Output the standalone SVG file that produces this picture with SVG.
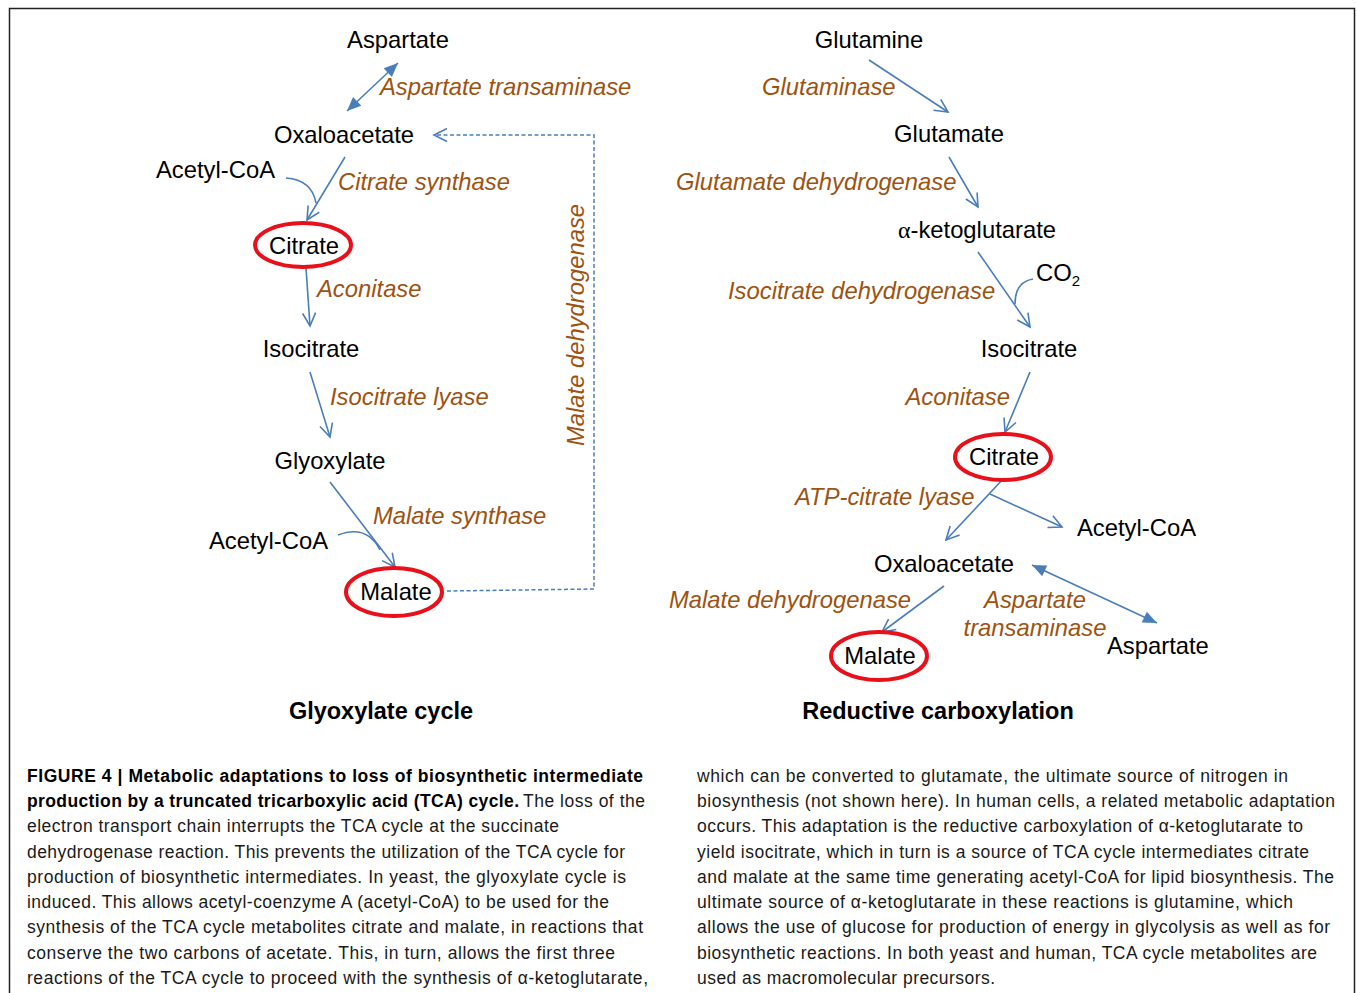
<svg xmlns="http://www.w3.org/2000/svg" width="1357" height="993" viewBox="0 0 1357 993">
<style>
.n{font-family:"Liberation Sans",Arial,sans-serif;font-size:23.8px;fill:#000}
.e{font-family:"Liberation Sans",Arial,sans-serif;font-size:23.8px;font-style:italic;fill:#9e5210}
.t{font-family:"Liberation Sans",Arial,sans-serif;font-size:23.5px;font-weight:bold;fill:#000}
.c{font-family:"Liberation Sans",Arial,sans-serif;font-size:17.5px;fill:#1a1a1a}
.cb{font-family:"Liberation Sans",Arial,sans-serif;font-size:17.5px;font-weight:bold;fill:#000}
.g{font-family:"Liberation Serif","Times New Roman",serif}
.ring{fill:none;stroke:#e8101a;stroke-width:4}
.a{fill:none;stroke:#4a7ebb;stroke-width:1.6;marker-end:url(#open)}
.cv{fill:none;stroke:#4a7ebb;stroke-width:1.6}
.d{fill:none;stroke:#4a7ebb;stroke-width:1.6;marker-start:url(#fill);marker-end:url(#fill)}
.dash{fill:none;stroke:#4a7ebb;stroke-width:1.5;stroke-dasharray:4,2.5}
</style>
<defs>
<marker id="open" markerUnits="userSpaceOnUse" markerWidth="18" markerHeight="16" refX="15" refY="8" orient="auto" overflow="visible">
<path d="M2,1.5 L15,8 L2,14.5" fill="none" stroke="#4a7ebb" stroke-width="1.6"/>
</marker>
<marker id="fill" markerUnits="userSpaceOnUse" markerWidth="16" markerHeight="14" refX="14" refY="6" orient="auto-start-reverse" overflow="visible">
<path d="M0,0 L14,6 L0,12 Z" fill="#4a7ebb"/>
</marker>
</defs>
<rect width="1357" height="993" fill="#fff"/>
<path d="M9.5,993 L9.5,8.5 L1354.5,8.5 L1354.5,993" fill="none" stroke="#222" stroke-width="1.5"/>

<g id="connectors">
<line class="d" x1="398" y1="63" x2="347" y2="111"/>
<path class="dash" d="M447,591 L594,589 L594,135 L434,135" marker-end="url(#open)"/>
<line class="a" x1="345" y1="157" x2="307" y2="220"/>
<path class="cv" d="M286,178 Q312,180 316,203"/>
<line class="a" x1="306" y1="268" x2="310" y2="326"/>
<line class="a" x1="310" y1="372" x2="330" y2="437"/>
<line class="a" x1="330" y1="482" x2="395" y2="567"/>
<path class="cv" d="M338,535 Q367,524 380,550"/>

<line class="a" x1="869" y1="60" x2="948" y2="112"/>
<line class="a" x1="949" y1="157" x2="978" y2="207"/>
<line class="a" x1="978" y1="252" x2="1030" y2="327"/>
<path class="cv" d="M1033,279 Q1015,282 1015,304"/>
<line class="a" x1="1030" y1="372" x2="1005" y2="432"/>
<line class="a" x1="1004" y1="478" x2="946" y2="540"/>
<line class="a" x1="990" y1="494" x2="1062" y2="527"/>
<line class="d" x1="1032" y1="565" x2="1157" y2="623"/>
<line class="a" x1="944" y1="586" x2="882" y2="632"/>
</g>

<g id="glyoxylate-cycle">
<g id="aspartate-l"><text class="n" x="398" y="48" text-anchor="middle">Aspartate</text></g>
<g id="aat-l"><text class="e" x="380" y="95">Aspartate transaminase</text></g>
<g id="oaa-l"><text class="n" x="344" y="143" text-anchor="middle">Oxaloacetate</text></g>
<g id="accoa-l1"><text class="n" x="156" y="178">Acetyl-CoA</text></g>
<g id="cs-l"><text class="e" x="338" y="190">Citrate synthase</text></g>
<g id="citrate-l"><ellipse class="ring" cx="303" cy="245" rx="48" ry="22"/><text class="n" x="304" y="254" text-anchor="middle">Citrate</text></g>
<g id="acon-l"><text class="e" x="317" y="297">Aconitase</text></g>
<g id="isocit-l"><text class="n" x="311" y="357" text-anchor="middle">Isocitrate</text></g>
<g id="icl-l"><text class="e" x="330" y="405">Isocitrate lyase</text></g>
<g id="glyox-l"><text class="n" x="330" y="469" text-anchor="middle">Glyoxylate</text></g>
<g id="ms-l"><text class="e" x="373" y="524">Malate synthase</text></g>
<g id="accoa-l2"><text class="n" x="209" y="549">Acetyl-CoA</text></g>
<g id="malate-l"><ellipse class="ring" cx="394" cy="592" rx="48" ry="24"/><text class="n" x="396" y="600" text-anchor="middle">Malate</text></g>
<g id="mdh-l"><text class="e" transform="translate(584,325) rotate(-90)" text-anchor="middle">Malate dehydrogenase</text></g>
<g id="title-l"><text class="t" x="381" y="719" text-anchor="middle">Glyoxylate cycle</text></g>
</g>

<g id="reductive-carboxylation">
<g id="gln"><text class="n" x="869" y="48" text-anchor="middle">Glutamine</text></g>
<g id="glsase"><text class="e" x="762" y="95">Glutaminase</text></g>
<g id="glu"><text class="n" x="949" y="142" text-anchor="middle">Glutamate</text></g>
<g id="gdh"><text class="e" x="676" y="190">Glutamate dehydrogenase</text></g>
<g id="akg"><text class="n" x="977" y="238" text-anchor="middle"><tspan class="g">α</tspan>-ketoglutarate</text></g>
<g id="co2"><text class="n" x="1036" y="281">CO<tspan font-size="15" dy="5">2</tspan></text></g>
<g id="idh"><text class="e" x="728" y="299">Isocitrate dehydrogenase</text></g>
<g id="isocit-r"><text class="n" x="1029" y="357" text-anchor="middle">Isocitrate</text></g>
<g id="acon-r"><text class="e" x="1010" y="405" text-anchor="end">Aconitase</text></g>
<g id="citrate-r"><ellipse class="ring" cx="1003" cy="457" rx="48" ry="23"/><text class="n" x="1004" y="465" text-anchor="middle">Citrate</text></g>
<g id="acl"><text class="e" x="795" y="505">ATP-citrate lyase</text></g>
<g id="accoa-r"><text class="n" x="1077" y="536">Acetyl-CoA</text></g>
<g id="oaa-r"><text class="n" x="944" y="572" text-anchor="middle">Oxaloacetate</text></g>
<g id="mdh-r"><text class="e" x="669" y="608">Malate dehydrogenase</text></g>
<g id="aat-r"><text class="e" x="1035" y="608" text-anchor="middle">Aspartate</text><text class="e" x="1035" y="636" text-anchor="middle">transaminase</text></g>
<g id="asp-r"><text class="n" x="1107" y="654">Aspartate</text></g>
<g id="malate-r"><ellipse class="ring" cx="879" cy="656" rx="48" ry="24"/><text class="n" x="880" y="664" text-anchor="middle">Malate</text></g>
<g id="title-r"><text class="t" x="938" y="719" text-anchor="middle">Reductive carboxylation</text></g>
</g>

<g id="caption">
<text class="cb" x="27" y="782" textLength="616">FIGURE 4 | Metabolic adaptations to loss of biosynthetic intermediate</text>
<text class="cb" x="27" y="807" textLength="492">production by a truncated tricarboxylic acid (TCA) cycle.</text>
<text class="c" x="523" y="807" textLength="122">The loss of the</text>
<text class="c" x="27" y="832" textLength="532">electron transport chain interrupts the TCA cycle at the succinate</text>
<text class="c" x="27" y="857.5" textLength="598">dehydrogenase reaction. This prevents the utilization of the TCA cycle for</text>
<text class="c" x="27" y="883" textLength="599">production of biosynthetic intermediates. In yeast, the glyoxylate cycle is</text>
<text class="c" x="27" y="908" textLength="582">induced. This allows acetyl-coenzyme A (acetyl-CoA) to be used for the</text>
<text class="c" x="27" y="933" textLength="616">synthesis of the TCA cycle metabolites citrate and malate, in reactions that</text>
<text class="c" x="27" y="958.5" textLength="588">conserve the two carbons of acetate. This, in turn, allows the first three</text>
<text class="c" x="27" y="984" textLength="621">reactions of the TCA cycle to proceed with the synthesis of α-ketoglutarate,</text>
<text class="c" x="697" y="782" textLength="591">which can be converted to glutamate, the ultimate source of nitrogen in</text>
<text class="c" x="697" y="807" textLength="638">biosynthesis (not shown here). In human cells, a related metabolic adaptation</text>
<text class="c" x="697" y="832" textLength="606">occurs. This adaptation is the reductive carboxylation of α-ketoglutarate to</text>
<text class="c" x="697" y="857.5" textLength="612">yield isocitrate, which in turn is a source of TCA cycle intermediates citrate</text>
<text class="c" x="697" y="883" textLength="637">and malate at the same time generating acetyl-CoA for lipid biosynthesis. The</text>
<text class="c" x="697" y="908" textLength="596">ultimate source of α-ketoglutarate in these reactions is glutamine, which</text>
<text class="c" x="697" y="933" textLength="633">allows the use of glucose for production of energy in glycolysis as well as for</text>
<text class="c" x="697" y="958.5" textLength="620">biosynthetic reactions. In both yeast and human, TCA cycle metabolites are</text>
<text class="c" x="697" y="984" textLength="298">used as macromolecular precursors.</text>
</g>
</svg>
